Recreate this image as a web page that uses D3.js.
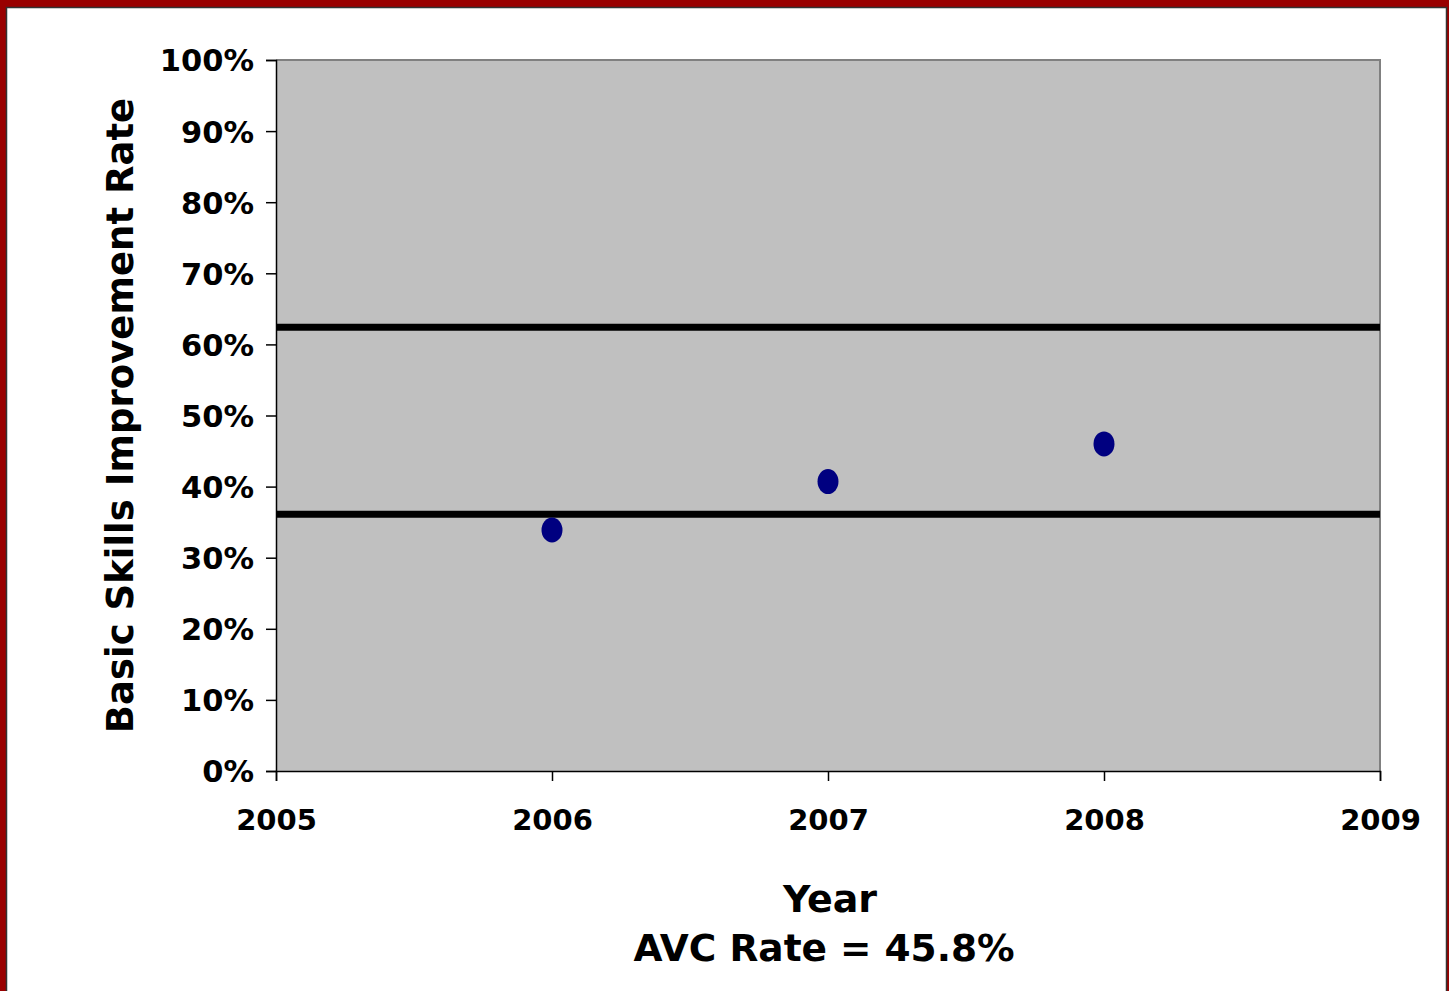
<!DOCTYPE html>
<html><head><meta charset="utf-8">
<script src="https://cdn.jsdelivr.net/npm/d3@7"></script>
<style>html,body{margin:0;padding:0;background:#fff;overflow:hidden}</style>
</head><body>
<svg id="c" width="1449" height="991"></svg>
<script>
const years = [2006, 2007, 2008];
const rates = [0.339, 0.407, 0.460];
const refLines = [0.624, 0.361];
const xTicks = [2005, 2006, 2007, 2008, 2009];
const yTicks = [0, 0.1, 0.2, 0.3, 0.4, 0.5, 0.6, 0.7, 0.8, 0.9, 1.0];
const xTitle = "Year";
const subTitle = "AVC Rate = 45.8%";
const yTitle = "Basic Skills Improvement Rate";

const svg = d3.select("#c");
const font = "'DejaVu Sans', Verdana, sans-serif";
// frame
svg.append("rect").attr("x",0).attr("y",0).attr("width",1449).attr("height",991).attr("fill","#990000");
svg.append("rect").attr("x",6.5).attr("y",7.5).attr("width",1440).attr("height",1000)
  .attr("fill","#fff").attr("stroke","#333").attr("stroke-width",1.5);

const L=276, R=1380, T=60, B=771;
const x = d3.scaleLinear().domain([2005,2009]).range([L,R]);
const y = d3.scaleLinear().domain([0,1]).range([B,T]);

svg.append("rect").attr("x",L).attr("y",T).attr("width",R-L).attr("height",B-T).attr("fill","#c0c0c0");
svg.append("path").attr("d",`M${L},${T}H${R}V${B}`).attr("fill","none").attr("stroke","#808080").attr("stroke-width",2);

const yAxis = d3.axisLeft(y).tickValues(yTicks).tickSize(10).tickPadding(12).tickFormat(d3.format(".0%"));
const gy = svg.append("g").attr("transform",`translate(${L},0)`).call(yAxis);
const xAxis = d3.axisBottom(x).tickValues(xTicks).tickSize(10).tickPadding(28).tickFormat(d3.format("d"));
const gx = svg.append("g").attr("transform",`translate(0,${B})`).call(xAxis);
[gx,gy].forEach(g=>{
  g.select(".domain").attr("stroke","#000").attr("stroke-width",1.5);
  g.selectAll(".tick line").attr("stroke","#000").attr("stroke-width",1.5);
  g.selectAll("text").attr("fill","#000").style("font-family",font).style("font-weight","bold");
});
gy.selectAll("text").style("font-size","30.5px").attr("dy","0.36em");
gx.selectAll("text").style("font-size","29px").attr("dy","0.72em");

svg.append("g").selectAll("line").data(refLines).join("line")
  .attr("x1",L).attr("x2",R).attr("y1",d=>y(d)).attr("y2",d=>y(d))
  .attr("stroke","#000").attr("stroke-width",7);

svg.append("g").selectAll("ellipse").data(years).join("ellipse")
  .attr("cx",d=>x(d)).attr("cy",(d,i)=>y(rates[i])).attr("rx",10.5).attr("ry",12.5)
  .attr("fill","#000080");

svg.append("text").attr("x",(L+R)/2+2).attr("y",912).attr("text-anchor","middle")
  .style("font-family",font).style("font-weight","bold").style("font-size","38px").text(xTitle);
svg.append("text").attr("x",(L+R)/2-4).attr("y",961).attr("text-anchor","middle")
  .style("font-family",font).style("font-weight","bold").style("font-size","37.5px").text(subTitle);
svg.append("text").attr("transform",`translate(133,${(T+B)/2}) rotate(-90)`).attr("text-anchor","middle")
  .style("font-family",font).style("font-weight","bold").style("font-size","37px").text(yTitle);
</script>
</body></html>
